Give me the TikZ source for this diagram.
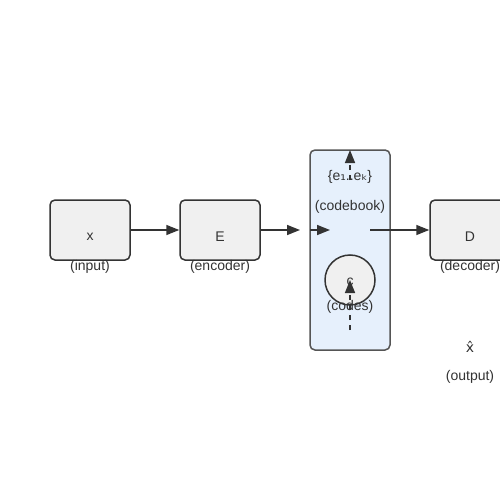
\documentclass[tikz,border=0pt]{standalone}
\usepackage{fontspec}
\setmainfont{Liberation Sans}
\newfontfamily\symfont{DejaVu Sans}
\usetikzlibrary{arrows.meta}
\definecolor{fillgray}{HTML}{F0F0F0}
\definecolor{strokec}{HTML}{333333}
\definecolor{cbstroke}{HTML}{555555}
\definecolor{cbfill}{HTML}{E6F0FC}
\begin{document}
\begin{tikzpicture}[x=1pt,y=-1pt, font=\fontsize{14}{16}\selectfont, text=strokec,
 box/.style={draw=strokec, line width=1.5pt, fill=fillgray, rounded corners=5pt, minimum width=80pt, minimum height=60pt, inner sep=0pt},
 lbl/.style={inner sep=0pt},
 conn/.style={draw=strokec, line width=1.5pt, -{Triangle[length=13pt,width=10pt]}},
 dconn/.style={conn, dash pattern=on 5pt off 5pt}]
\useasboundingbox (0,0) rectangle (500,500);
\fill[white] (0,0) rectangle (500,500);
% codebook container
\node[draw=cbstroke, line width=1.5pt, fill=cbfill, rounded corners=5pt, minimum width=80pt, minimum height=200pt, inner sep=0pt] (cb) at (350,250) {};
% boxes
\node[box] (bx) at (90,230) {};
\node[box] (bE) at (220,230) {};
\node[box] (bD) at (470,230) {};
\node[draw=strokec, line width=1.5pt, fill=fillgray, circle, minimum size=50pt, inner sep=0pt] (bc) at (350,280) {};
% connectors
\coordinate (a1) at (300,230);
\coordinate (a2) at (310,230);
\coordinate (a3) at (330,230);
\coordinate (a4) at (370,230);
\coordinate (u1) at (350,180);
\coordinate (u2) at (350,150);
\coordinate (d1) at (350,330);
\coordinate (d2) at (350,280);
\draw[conn] (bx.east) -- (bE.west);
\draw[conn] (bE.east) -- (a1);
\draw[conn] (a2) -- (a3);
\draw[conn] (a4) -- (bD.west);
\draw[dconn] (u1) -- (u2);
\draw[dconn] (d1) -- (d2);
% labels
\node[lbl] (tx) at (90,237) {x};
\node[lbl] (tin) at (90,267) {(input)};
\node[lbl] (tE) at (220,237) {E};
\node[lbl] (tenc) at (220,267) {(encoder)};
\node[lbl] (tD) at (470,237) {D};
\node[lbl] (tdec) at (470,267) {(decoder)};
\node[lbl] (tek) at (350,177) {\{e{\symfont ₁}..e{\symfont ₖ}\}};
\node[lbl] (tcb) at (350,207) {(codebook)};
\node[lbl] (tc) at (350,282) {c};
\node[lbl] (tcodes) at (350,307) {(codes)};
\node[lbl] (txh) at (470,347) {{\symfont x̂}};
\node[lbl] (tout) at (470,377) {(output)};
\end{tikzpicture}
\end{document}
